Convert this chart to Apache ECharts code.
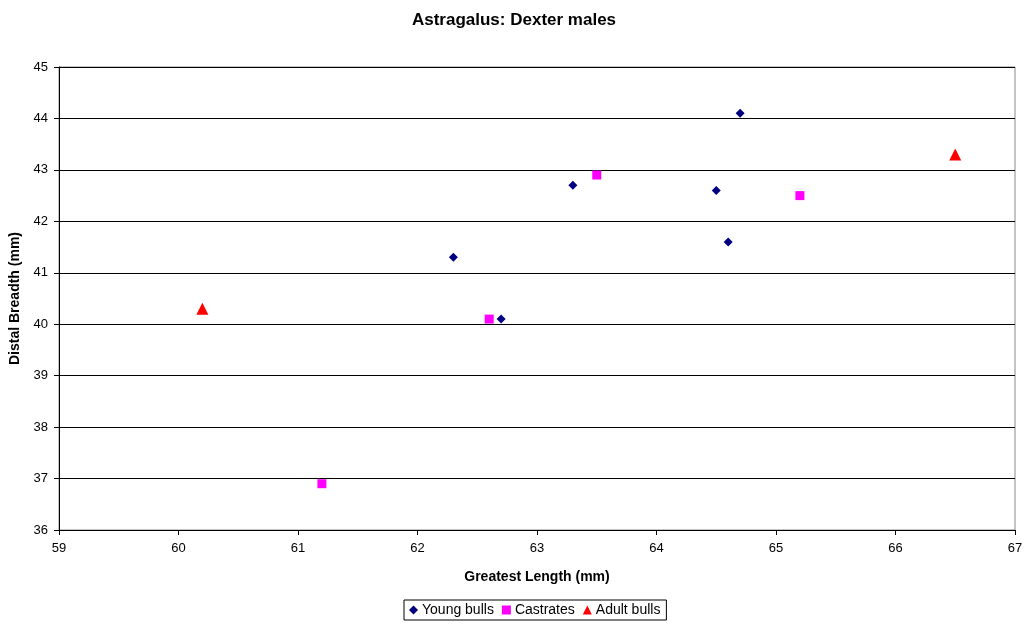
<!DOCTYPE html>
<html>
<head>
<meta charset="utf-8">
<script src="https://cdn.jsdelivr.net/npm/echarts@6/dist/echarts.min.js"></script>
<style>html,body{margin:0;padding:0;background:#fff}#c{width:1028px;height:626px}</style>
</head>
<body>
<div id="c"></div>
<script>
var title = 'Astragalus: Dexter males';
var xName = 'Greatest Length (mm)';
var yName = 'Distal Breadth (mm)';
var youngBulls = [[62.3,41.3],[62.7,40.1],[63.3,42.7],[64.5,42.6],[64.7,44.1],[64.6,41.6]];
var castrates = [[61.2,36.9],[62.6,40.1],[63.5,42.9],[65.2,42.5]];
var adultBulls = [[60.2,40.3],[66.5,43.3]];
var xTicks = {min:59,max:67,interval:1};
var yTicks = {min:36,max:45,interval:1};

var chart = echarts.init(document.getElementById('c'));
var font = 'Liberation Sans, Arial, sans-serif';
chart.setOption({
  animation:false,
  textStyle:{fontFamily:font},
  title:{text:title,left:'center',top:7,textStyle:{fontSize:17,fontWeight:'bold',color:'#000',fontFamily:font}},
  legend:{top:600,left:404,itemWidth:9,itemHeight:9,itemGap:8,
    borderColor:'#000',borderWidth:1,padding:[3,6,3,5],
    textStyle:{fontSize:14,color:'#000',fontFamily:font,padding:[0,0,0,-1]},
    data:['Young bulls','Castrates','Adult bulls']},
  grid:{left:58,right:13,top:67,bottom:96,show:true,borderColor:'#888',borderWidth:1},
  xAxis:{type:'value',min:xTicks.min,max:xTicks.max,interval:xTicks.interval,
    name:xName,nameLocation:'middle',nameGap:40,
    nameTextStyle:{fontSize:14,fontWeight:'bold',color:'#000'},
    axisLine:{lineStyle:{color:'#000'}},axisTick:{show:true,length:5,lineStyle:{color:'#000'}},
    axisLabel:{color:'#000',fontSize:13,margin:12},splitLine:{show:false}},
  yAxis:{type:'value',min:yTicks.min,max:yTicks.max,interval:yTicks.interval,
    name:yName,nameLocation:'middle',nameGap:37,
    nameTextStyle:{fontSize:14,fontWeight:'bold',color:'#000'},
    axisLine:{show:true,lineStyle:{color:'#000'}},axisTick:{show:true,length:5,lineStyle:{color:'#000'}},
    axisLabel:{color:'#000',fontSize:13,margin:11},splitLine:{show:true,lineStyle:{color:'#000',width:1}}},
  series:[
    {name:'Young bulls',type:'scatter',data:youngBulls,symbol:'diamond',symbolSize:9,itemStyle:{color:'#000080',opacity:1}},
    {name:'Castrates',type:'scatter',data:castrates,symbol:'rect',symbolSize:9,itemStyle:{color:'#FF00FF',opacity:1}},
    {name:'Adult bulls',type:'scatter',data:adultBulls,symbol:'triangle',symbolSize:12,itemStyle:{color:'#FF0000',opacity:1}}
  ]
});
</script>
</body>
</html>
